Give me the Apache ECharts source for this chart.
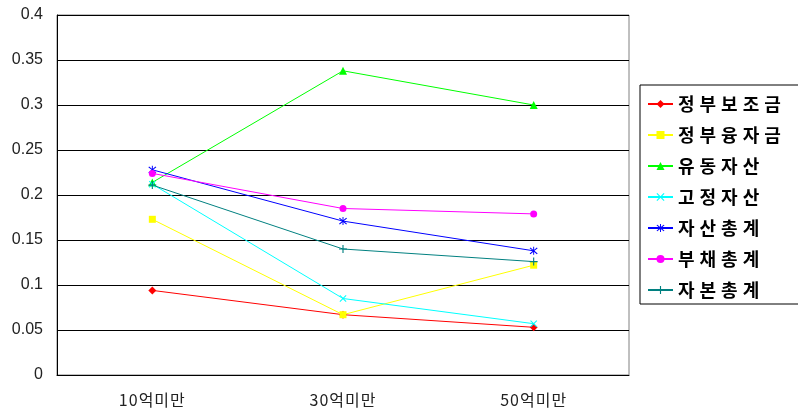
<!DOCTYPE html>
<html><head><meta charset="utf-8">
<script src="https://cdn.jsdelivr.net/npm/echarts@6/dist/echarts.min.js"></script>
<style>html,body{margin:0;padding:0;background:#fff}#c{width:798px;height:412px}</style>
</head><body><div id="c"></div>
<script>
const categories = ['10억미만', '30억미만', '50억미만'];
const yTicks = [0, 0.05, 0.1, 0.15, 0.2, 0.25, 0.3, 0.35, 0.4];
const s정부보조금 = [0.094, 0.067, 0.053];
const s정부융자금 = [0.173, 0.067, 0.122];
const s유동자산 = [0.214, 0.338, 0.300];
const s고정자산 = [0.212, 0.085, 0.057];
const s자산총계 = [0.228, 0.171, 0.138];
const s부채총계 = [0.224, 0.185, 0.179];
const s자본총계 = [0.211, 0.140, 0.126];

const P_PLUS = 'path://M4.3,0H5.7V4.3H10V5.7H5.7V10H4.3V5.7H0V4.3H4.3Z';
const P_X = 'path://M1,0L5,4L9,0L10,1L6,5L10,9L9,10L5,6L1,10L0,9L4,5L0,1Z';
const P_STAR = 'path://M1,0L5,4L9,0L10,1L6,5L10,9L9,10L5,6L1,10L0,9L4,5L0,1Z M4.4,-1H5.6V11H4.4Z';

function spaced(s) { return s.split('').map(ch => '{c|' + ch + '}').join(''); }

function mk(name, data, color, symbol, size) {
  return {
    name, type: 'line', data, symbol, symbolSize: size,
    lineStyle: { color, width: 1 }, itemStyle: { color },
    emphasis: { disabled: true }, animation: false
  };
}
const chart = echarts.init(document.getElementById('c'));
chart.setOption({
  animation: false,
  grid: { left: 57, right: 169, top: 15, bottom: 37, show: true, borderColor: '#808080', borderWidth: 1 },
  legend: {
    orient: 'vertical', left: 640, top: 85,
    borderColor: '#000', borderWidth: 1, padding: [9, 20, 4, 7],
    itemWidth: 25, itemHeight: 10, itemGap: 11,
    formatter: name => spaced(name),
    textStyle: { fontFamily: 'Noto Sans CJK KR', fontSize: 18, fontWeight: 'bold', color: '#000', lineHeight: 20,
      rich: { c: { fontFamily: 'Noto Sans CJK KR', fontSize: 18, fontWeight: 'bold', color: '#000', lineHeight: 20, padding: [0, 5, 0, 0] } } },
    data: ['정부보조금', '정부융자금', '유동자산', '고정자산', '자산총계', '부채총계', '자본총계']
  },
  xAxis: {
    type: 'category', data: categories, boundaryGap: true,
    axisLine: { lineStyle: { color: '#000', width: 1 } },
    axisTick: { inside: true, length: 6, lineStyle: { color: '#000' } },
    axisLabel: { interval: 0, hideOverlap: false, margin: 17, fontFamily: 'Noto Sans CJK KR', fontSize: 16, color: '#222',
      formatter: v => spaced(v),
      rich: { c: { fontFamily: 'Noto Sans CJK KR', fontSize: 16, color: '#222', padding: [0, 1, 0, 0] } } }
  },
  yAxis: {
    type: 'value', min: 0, max: 0.4, interval: 0.05,
    axisLine: { show: true, lineStyle: { color: '#000' } },
    axisTick: { show: false },
    splitLine: { lineStyle: { color: '#000', width: 1 } },
    axisLabel: { margin: 14, fontFamily: 'Liberation Sans', fontSize: 16, color: '#222',
      formatter: v => { const t = yTicks.find(x => Math.abs(x - v) < 1e-9); return String(t !== undefined ? t : v); } }
  },
  series: [
    mk('정부보조금', s정부보조금, '#FF0000', 'diamond', 8),
    mk('정부융자금', s정부융자금, '#FFFF00', 'rect', 7),
    mk('유동자산', s유동자산, '#00FF00', 'triangle', 8),
    mk('고정자산', s고정자산, '#00FFFF', P_X, 7),
    mk('자산총계', s자산총계, '#0000FF', P_STAR, 8),
    mk('부채총계', s부채총계, '#FF00FF', 'circle', 7),
    mk('자본총계', s자본총계, '#008080', P_PLUS, 8)
  ]
});
</script></body></html>
